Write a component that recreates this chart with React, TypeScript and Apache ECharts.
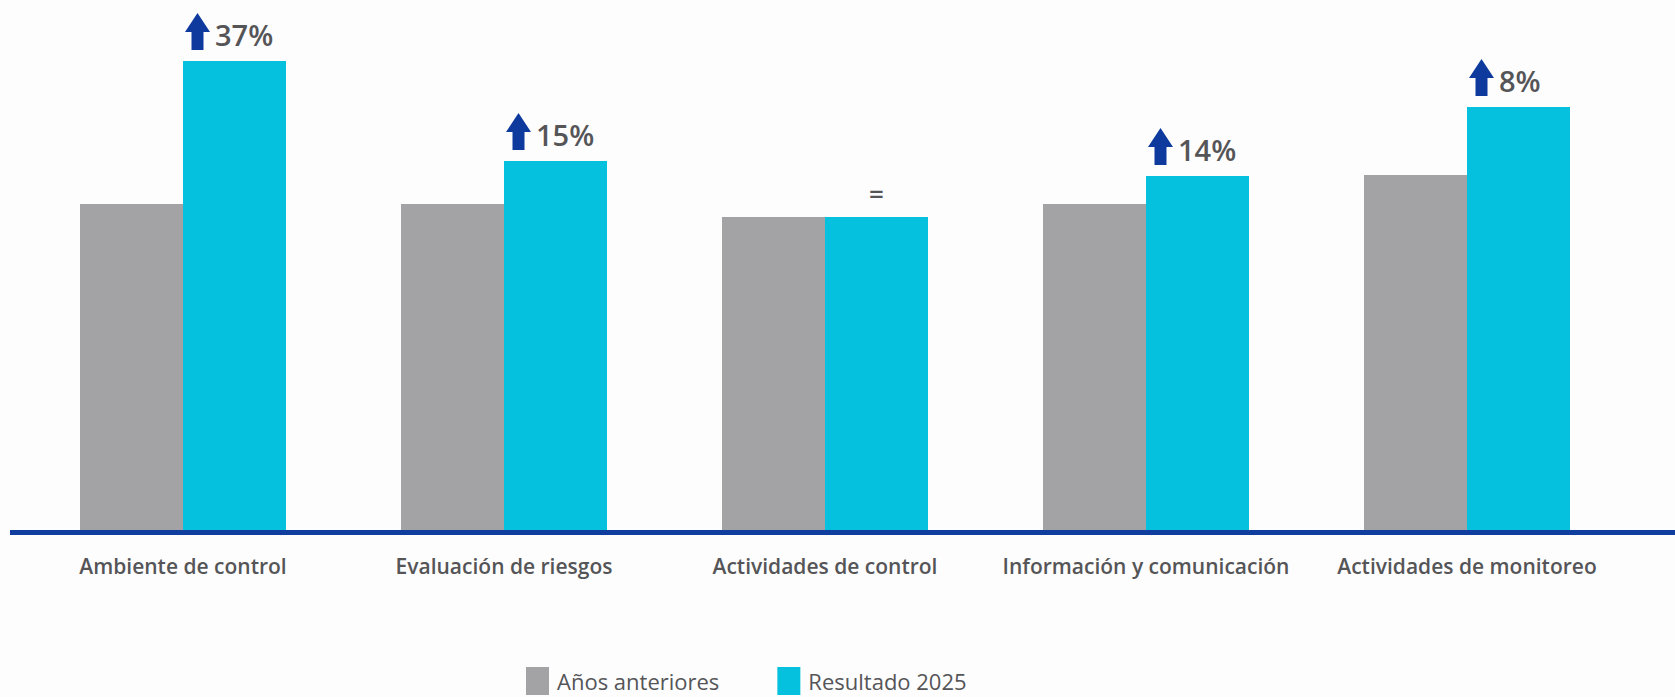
import React, { useEffect, useRef } from "react";
import * as echarts from "echarts";

const categories = [
  "Ambiente de control",
  "Evaluación de riesgos",
  "Actividades de control",
  "Información y comunicación",
  "Actividades de monitoreo",
];
const anteriores = [3.26, 3.26, 3.13, 3.26, 3.55];
const resultado = [4.69, 3.69, 3.13, 3.54, 4.23];
const cambios = ["37%", "15%", "=", "14%", "8%"];
const seriesNames = ["Años anteriores", "Resultado 2025"];

const BAR_W = 103;
const FONT = "'Open Sans', 'DejaVu Sans', sans-serif";
const TEXT = "#555558";

export default function App() {
  const ref = useRef<HTMLDivElement>(null);
  useEffect(() => {
    if (!ref.current) return;
    const chart = echarts.init(ref.current, undefined, { renderer: "svg" });
    chart.setOption({
      animation: false,
      backgroundColor: "#fdfdfd",
      grid: { left: 22.5, right: 47.5, top: 30, bottom: 167 },
      xAxis: {
        type: "category",
        data: categories,
        axisLine: { show: false },
        axisTick: { show: false },
        axisLabel: {
          margin: 25,
          fontSize: 21,
          fontFamily: FONT,
          fontWeight: 600,
          color: TEXT,
          interval: 0,
        },
      },
      yAxis: { type: "value", min: 0, max: 5, show: false, splitLine: { show: false } },
      legend: {
        data: seriesNames,
        left: 521,
        top: 662,
        icon: "rect",
        itemWidth: 23,
        itemHeight: 28,
        itemGap: 58,
        textStyle: {
          fontSize: 22,
          lineHeight: 24,
          fontFamily: FONT,
          fontWeight: 500,
          color: TEXT,
          padding: [0, 0, 0, 3],
        },
      },
      graphic: [
        {
          type: "rect",
          shape: { x: 10, y: 530, width: 1665, height: 5 },
          style: { fill: "#0f3e9f" },
          z: 10,
        },
      ],
      series: [
        {
          name: seriesNames[0],
          type: "bar",
          data: anteriores,
          barWidth: BAR_W,
          barGap: "0%",
          itemStyle: { color: "#a3a2a4" },
        },
        {
          name: seriesNames[1],
          type: "bar",
          data: resultado,
          barWidth: BAR_W,
          barGap: "0%",
          itemStyle: { color: "#05c1de" },
        },
        {
          type: "custom",
          data: resultado.map((v, i) => [i, v]),
          encode: { x: 0, y: 1 },
          z: 20,
          renderItem: (params: any, api: any) => {
            const idx = params.dataIndex;
            const pt = api.coord([idx, resultado[idx]]);
            const left = pt[0];
            const top = pt[1];
            const label = cambios[idx];
            if (label === "=") {
              return {
                type: "text",
                x: left + BAR_W / 2,
                y: top - 24,
                style: {
                  text: "=",
                  fontSize: 26,
                  fontFamily: FONT,
                  fontWeight: 600,
                  fill: TEXT,
                  align: "center",
                  verticalAlign: "middle",
                },
              };
            }
            const ax = left + 2;
            const ay = top - 11 - 37;
            return {
              type: "group",
              children: [
                {
                  type: "polygon",
                  shape: {
                    points: [
                      [ax + 12.5, ay],
                      [ax + 25, ay + 19],
                      [ax + 18.5, ay + 19],
                      [ax + 18.5, ay + 37],
                      [ax + 6.5, ay + 37],
                      [ax + 6.5, ay + 19],
                      [ax, ay + 19],
                    ],
                  },
                  style: { fill: "#0e3a9e" },
                },
                {
                  type: "text",
                  x: left + 32,
                  y: top - 27,
                  style: {
                    text: label,
                    fontSize: 29,
                    fontFamily: FONT,
                    fontWeight: 600,
                    fill: TEXT,
                    align: "left",
                    verticalAlign: "middle",
                  },
                },
              ],
            };
          },
        },
      ],
    });
    return () => chart.dispose();
  }, []);
  return (
    <div
      ref={ref}
      style={{ position: "fixed", left: 0, top: 0, width: 1675, height: 697 }}
    />
  );
}
